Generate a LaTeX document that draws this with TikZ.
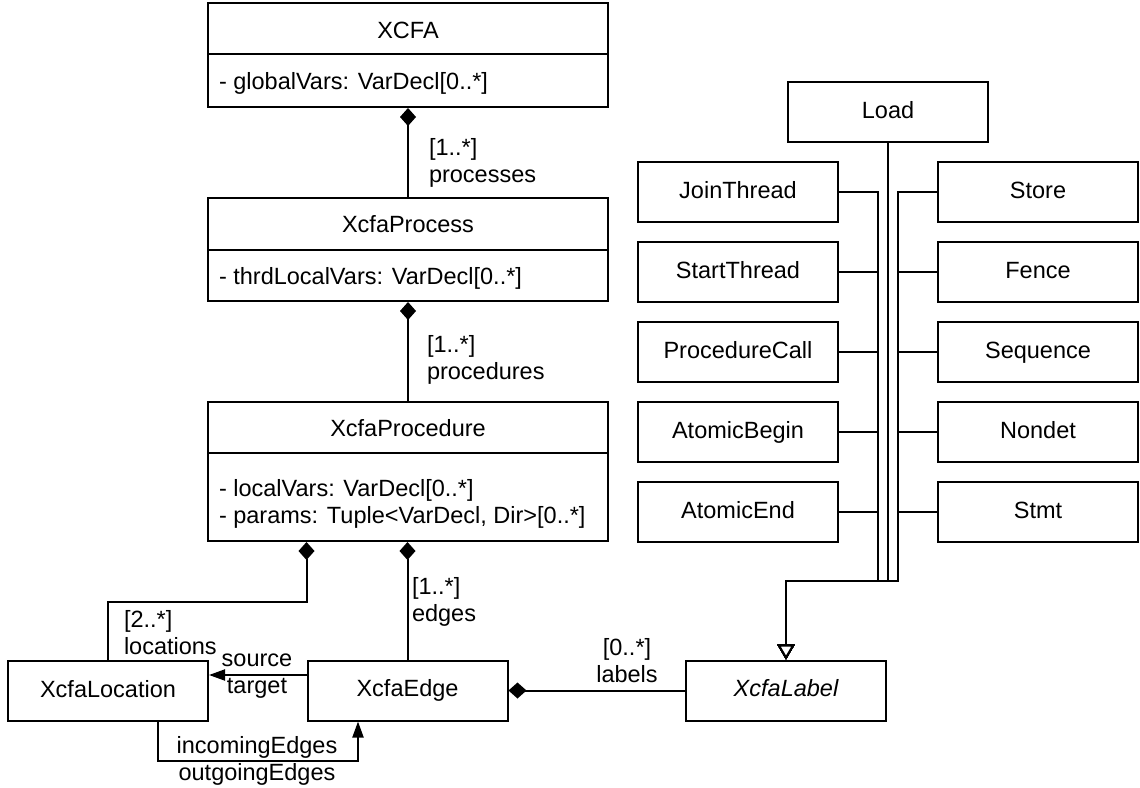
\documentclass[tikz,border=0pt]{standalone}
\usepackage{fontspec}
\setmainfont{Liberation Sans}
\usetikzlibrary{arrows.meta,calc}
\newcommand{\dfont}{\fontsize{11.75}{13.5}\selectfont}
\begin{document}
\begin{tikzpicture}[x=0.5pt,y=-0.5pt, line width=1pt,
  every node/.style={font=\dfont, inner sep=0pt},
  tx/.style={text height=8.5pt, text depth=2.5pt},
  cls/.style={draw, line width=1pt, minimum width=200pt},
  sbox/.style={draw, line width=1pt, minimum width=100pt, minimum height=30pt, tx},
  lbl/.style={align=left, anchor=west},
  clbl/.style={align=center},
  comp/.style={{Diamond[length=9pt,width=8pt]}-},
  nav/.style={-{Triangle[length=8pt,width=5.5pt]}},
  inh/.style={-{Triangle[open,length=7.5pt,width=8.5pt,fill=white]}},
]
\useasboundingbox (0,0) rectangle (1140,787);

% class boxes with compartments
\node[cls, minimum height=52pt] (xcfa) at (408,55) {};
\draw (208,54) -- (608,54);
\node[tx] (xcfat) at (408,32) {XCFA};
\node[tx, anchor=west] (xcfaa) at (218,83) {- globalVars: VarDecl[0..*]};

\node[cls, minimum height=51.5pt] (proc) at (408,249.5) {};
\draw (208,250) -- (608,250);
\node[tx] (proct) at (408,226) {XcfaProcess};
\node[tx, anchor=west] (proca) at (218,278) {- thrdLocalVars: VarDecl[0..*]};

\node[cls, minimum height=69.5pt] (pro) at (408,471.5) {};
\draw (208,453) -- (608,453);
\node[tx] (prot) at (408,430) {XcfaProcedure};
\node[lbl] (proa) at (218,504) {- localVars: VarDecl[0..*]\\- params: Tuple<VarDecl, Dir>[0..*]};

% simple boxes
\node[sbox] (loc) at (108,691) {XcfaLocation};
\node[sbox] (edge) at (407.5,690.5) {XcfaEdge};
\node[sbox] (lab) at (786,690.5) {\itshape XcfaLabel};

\node[sbox] (load) at (888,112) {Load};
\node[sbox] (jt) at (738,192) {JoinThread};
\node[sbox] (stt) at (738,272) {StartThread};
\node[sbox] (pc) at (738,352) {ProcedureCall};
\node[sbox] (ab) at (738,432) {AtomicBegin};
\node[sbox] (ae) at (738,512) {AtomicEnd};
\node[sbox] (sto) at (1038,192) {Store};
\node[sbox] (fen) at (1038,272) {Fence};
\node[sbox] (seq) at (1038,352) {Sequence};
\node[sbox] (nd) at (1038,432) {Nondet};
\node[sbox] (stm) at (1038,512) {Stmt};

% compositions
\draw[comp] (xcfa.south) -- (proc.north);
\node[lbl] (l1) at (428,163) {[1..*]\\processes};
\draw[comp] (proc.south) -- (pro.north);
\node[lbl] (l2) at (426,360) {[1..*]\\procedures};
\draw[comp] (pro.south -| edge.west) -- ++(0,60) -| (loc.north);
\node[lbl] (l3) at (123,633) {[2..*]\\locations};
\draw[comp] (pro.south -| edge.north) -- (edge.north);
\node[lbl] (l4) at (411,602) {[1..*]\\edges};
\draw[comp] (edge.east) -- (lab.west);
\node[clbl] (l5) at (627,661) {[0..*]\\labels};

% navigations
\draw[nav] (edge.west |- 0,675) -- (loc.east |- 0,675);
\node[clbl] (l6) at (257,676) {source\\target};
\draw[nav] ([xshift=25pt]loc.south) -- ++(0,39) -| ([xshift=-24.75pt]edge.south);
\node[clbl] (l7) at (257,761) {incomingEdges\\outgoingEdges};

% generalizations
\coordinate (busL) at (878,581);
\coordinate (busM) at (888,581);
\coordinate (busR) at (898,581);
\foreach \n in {jt,stt,pc,ab,ae}{
  \draw[inh] (\n.east) -| (busL) -| (lab.north);
}
\foreach \n in {sto,fen,seq,nd,stm}{
  \draw[inh] (\n.west) -| (busR) -| (lab.north);
}
\draw[inh] (load.south) -- (busM) -| (lab.north);
\end{tikzpicture}
\end{document}
